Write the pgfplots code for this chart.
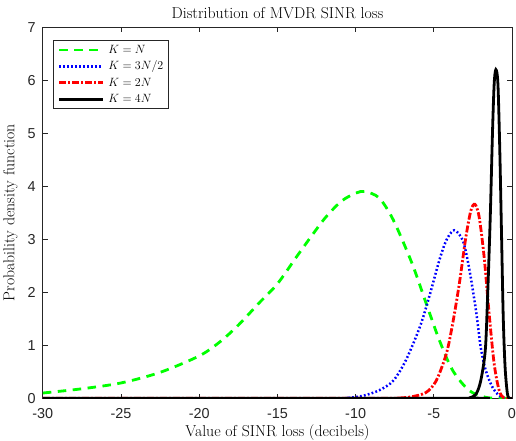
\documentclass[border=0pt]{standalone}
\usepackage{fontspec}
\usepackage{pgfplots}
\pgfplotsset{compat=1.18}
\newfontfamily\ticksf{Liberation Sans}
\definecolor{axgray}{rgb}{0.15,0.15,0.15}

\begin{document}
\begin{tikzpicture}
\begin{axis}[
  scale only axis, width=469pt, height=371pt,
  xmin=-30, xmax=0, ymin=0, ymax=7,
  xtick={-30,-25,...,0}, ytick={0,1,...,7},
  tick align=inside, major tick length=4.7pt,
  axis line style={axgray, line width=0.72pt},
  every tick/.style={axgray, line width=0.72pt},
  /pgf/number format/assume math mode=true,
  tick label style={font=\ticksf\fontsize{14.4}{14.4}\selectfont, text=axgray, inner sep=0pt},
  xticklabel style={yshift=-10pt},
  yticklabel style={xshift=-7pt},
  title={Distribution of MVDR SINR loss},
  % replaces the default style, which has a 6pt shift
  every axis title/.style={font=\fontsize{15.8}{19}\selectfont, at={(rel axis cs:0.5,1)},
    anchor=south, inner xsep=0pt, inner ysep=8pt, text height=11pt, text depth=0pt},
  xlabel={Value of SINR loss (decibels)},
  ylabel={Probability density function},
  label style={font=\fontsize{15.8}{19}\selectfont},
  xlabel style={at={(rel axis cs:0.5,0)}, anchor=north, inner sep=0pt, yshift=-26.5pt,
    text height=11.85pt, text depth=3.95pt},
  % the y label is rotated, so its yshift moves it to the left
  ylabel style={at={(rel axis cs:0,0.5)}, anchor=south, inner xsep=0pt,
    inner ysep=3.3pt, yshift=22pt, text height=10.97pt, text depth=3.07pt},
  legend style={at={(0.0213,0.965)}, anchor=north west, draw=axgray, line width=0.72pt,
    font=\fontsize{13}{15.6}\selectfont, inner xsep=4.6pt, inner ysep=2.9pt,
    nodes={inner sep=0pt, text height=9.75pt, text depth=3.25pt},
    row sep=3.4pt, column sep=4pt},
  legend cell align=left,
  legend image code/.code={\draw[#1] (0pt,0pt) -- (43.7pt,0pt);},
  every axis plot/.append style={line width=2.8pt, smooth, tension=0.5},
]
\addplot[green, dash pattern=on 8.5pt off 6.5pt] coordinates {
(-30,0.10) (-27.5,0.18) (-25,0.29) (-22.5,0.49) (-20,0.80) (-18.7,1.06) (-17.5,1.38)
(-16.2,1.79) (-15,2.16) (-13.8,2.66) (-12.8,3.07) (-11.9,3.42) (-10.9,3.72) (-10.0,3.87)
(-9.4,3.9) (-8.5,3.78) (-7.6,3.37) (-6.4,2.55) (-5.5,1.8) (-4.65,1.1) (-3.8,0.53)
(-2.75,0.15) (-1.7,0.02) (-0.8,0) (0,0)};
\addplot[blue, line width=2.5pt, dash pattern=on 1.8pt off 2.2pt] coordinates {
(-30,0) (-11,0) (-10.4,0.01) (-9.5,0.05) (-8.5,0.15) (-7.6,0.33) (-6.8,0.71) (-5.9,1.34)
(-5.3,1.91) (-4.65,2.6) (-4.2,2.98) (-3.7,3.17) (-3.15,2.98) (-2.75,2.47) (-2.3,1.65)
(-2.0,0.96) (-1.67,0.52) (-1.25,0.21) (-0.82,0.05) (-0.4,0) (0,0)};
\addplot[red, dash pattern=on 7pt off 2pt on 2pt off 2pt] coordinates {
(-30,0) (-8,0) (-7,0.01) (-6.4,0.03) (-5.5,0.11) (-4.85,0.33) (-4.2,0.84) (-3.8,1.4)
(-3.37,2.16) (-2.95,3.04) (-2.63,3.54) (-2.37,3.66) (-2.1,3.42) (-1.78,2.66) (-1.46,1.59)
(-1.14,0.65) (-0.82,0.15) (-0.5,0) (0,0)};
\addplot[black] coordinates {
(-30,0) (-3.2,0) (-2.7,0.01) (-2.3,0.08) (-2.0,0.33) (-1.71,0.9) (-1.57,1.84) (-1.39,3.42)
(-1.25,4.99) (-1.14,5.93) (-1.03,6.2) (-0.9,5.93) (-0.78,4.67) (-0.67,3.1) (-0.56,1.53)
(-0.44,0.58) (-0.29,0.08) (-0.14,0) (0,0)};
\legend{$K=N$, $K=3N/2$, $K=2N$, $K=4N$}
\end{axis}
\end{tikzpicture}
\end{document}
